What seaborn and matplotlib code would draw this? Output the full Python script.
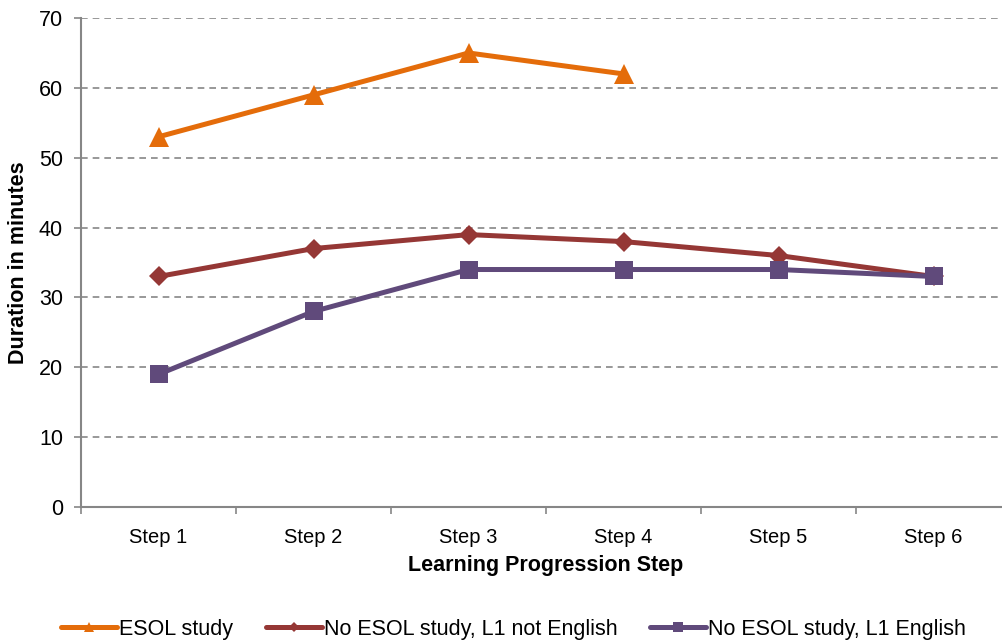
import matplotlib
matplotlib.use("Agg")
import matplotlib.pyplot as plt
import seaborn as sns
import pandas as pd
from matplotlib.lines import Line2D

steps = ["Step 1", "Step 2", "Step 3", "Step 4", "Step 5", "Step 6"]
esol_study = [53, 59, 65, 62]
no_esol_l1_other = [33, 37, 39, 38, 36, 33]
no_esol_l1_english = [19, 28, 34, 34, 34, 33]

series_names = ["ESOL study", "No ESOL study, L1 not English", "No ESOL study, L1 English"]
series_values = [esol_study, no_esol_l1_other, no_esol_l1_english]

COLORS = {
    "ESOL study": "#E46C0A",
    "No ESOL study, L1 not English": "#953735",
    "No ESOL study, L1 English": "#604A7B",
}
MARKERS = {
    "ESOL study": "^",
    "No ESOL study, L1 not English": "D",
    "No ESOL study, L1 English": "s",
}
SIZES = {
    "ESOL study": 14,
    "No ESOL study, L1 not English": 10,
    "No ESOL study, L1 English": 13,
}

rows = []
for name, vals in zip(series_names, series_values):
    for step, v in zip(steps, vals):
        rows.append({"series": name, "step": step, "pos": steps.index(step), "minutes": v})
df = pd.DataFrame(rows)

sns.set_theme(style="white")
plt.rcParams["font.family"] = ["Liberation Sans", "DejaVu Sans"]

fig = plt.figure(figsize=(10.03, 6.44), dpi=100)
ax = fig.add_axes([0.0808, 0.2127, 0.9272, 0.7593])

for name in series_names:
    sub = df[df["series"] == name]
    sns.lineplot(data=sub, x="pos", y="minutes", color=COLORS[name],
                 marker=MARKERS[name], markersize=SIZES[name],
                 markeredgewidth=0, linewidth=3.6, ax=ax, legend=False)

ax.set_xlim(-0.5, len(steps) - 0.5)
ax.set_ylim(0, 70)
ax.set_yticks(range(0, 71, 10))
ax.set_xticks(range(len(steps)))
ax.set_xticklabels(steps)
ax.set_xticks([i - 0.5 for i in range(len(steps) + 1)], minor=True)
ax.tick_params(axis="x", which="major", length=0, pad=15, labelsize=14.5,
               labelcolor="black")
ax.tick_params(axis="x", which="minor", length=5, width=1.2, color="#868686",
               direction="out", bottom=True)
ax.tick_params(axis="y", length=5, width=1.2, color="#868686", direction="out",
               pad=8, labelsize=15.5, left=True, labelcolor="black")

for y in range(10, 71, 10):
    ax.axhline(y, color="#868686", linestyle=(0, (4, 3)), linewidth=1.2, zorder=0)

for side in ["top", "right"]:
    ax.spines[side].set_visible(False)
for side in ["left", "bottom"]:
    ax.spines[side].set_color("#868686")
    ax.spines[side].set_linewidth(1.5)

ax.set_xlabel("Learning Progression Step", fontsize=15.5, fontweight="bold",
              labelpad=6, color="black")
ax.set_ylabel("Duration in minutes", fontsize=15.5, fontweight="bold",
              labelpad=7, color="black")

handles = [Line2D([0], [0], color=COLORS[n], marker=MARKERS[n], linewidth=3.6,
                  markersize=SIZES[n] * 0.55, markeredgewidth=0) for n in series_names]
fig.legend(handles, series_names, loc="center", bbox_to_anchor=(0.512, 0.023), ncol=3,
           frameon=False, fontsize=15.5, handlelength=2.6, handletextpad=0.1,
           columnspacing=1.5, labelcolor="black")

fig.savefig("out.png", dpi=100)
